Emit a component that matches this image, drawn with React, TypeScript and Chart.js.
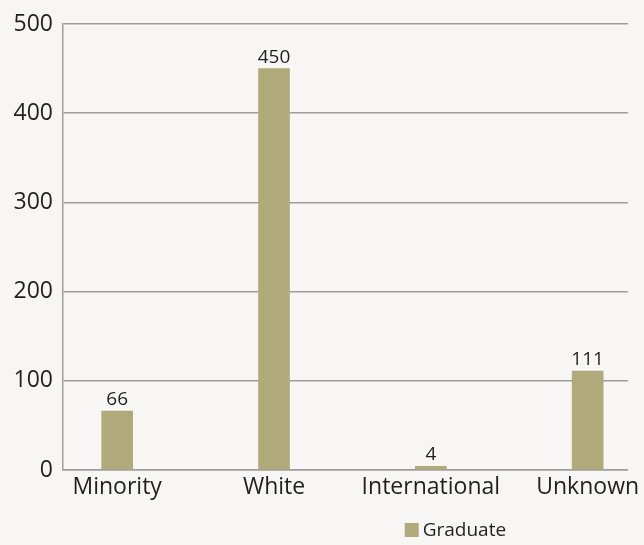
import React, { useEffect, useRef } from "react";
import { Chart, registerables } from "chart.js";

Chart.register(...registerables);

const categories = ["Minority", "White", "International", "Unknown"];
const graduateValues = [66, 450, 4, 111];
const yTicks = [0, 100, 200, 300, 400, 500];
const seriesLabel = "Graduate";

const FONT = "'Open Sans', 'Noto Sans', sans-serif";
const BAR_COLOR = "#b0a97a";
const GRID_COLOR = "#9d9d9d";
const TEXT_COLOR = "#231f20";

export default function App() {
  const ref = useRef<HTMLCanvasElement | null>(null);

  useEffect(() => {
    document.body.style.margin = "0";
    const canvas = ref.current;
    if (!canvas) return;

    const bgPlugin = {
      id: "bg",
      beforeDraw(chart: any) {
        const { ctx, width, height } = chart;
        ctx.save();
        ctx.fillStyle = "#f7f6f4";
        ctx.fillRect(0, 0, width, height);
        ctx.restore();
      },
    };

    const valueLabels = {
      id: "valueLabels",
      afterDatasetsDraw(chart: any) {
        const { ctx } = chart;
        const meta = chart.getDatasetMeta(0);
        ctx.save();
        ctx.font = `19px ${FONT}`;
        ctx.fillStyle = TEXT_COLOR;
        ctx.textAlign = "center";
        ctx.textBaseline = "alphabetic";
        meta.data.forEach((bar: any, i: number) => {
          ctx.fillText(String(graduateValues[i]), bar.x, bar.y - 6);
        });
        ctx.restore();
      },
    };

    const customLegend = {
      id: "customLegend",
      afterDraw(chart: any) {
        const { ctx, chartArea } = chart;
        const x = chartArea.left + chartArea.width * 0.605;
        const y = chart.height - 15;
        ctx.save();
        ctx.fillStyle = BAR_COLOR;
        ctx.fillRect(x, y - 7, 14, 14);
        ctx.font = `19px ${FONT}`;
        ctx.fillStyle = TEXT_COLOR;
        ctx.textAlign = "left";
        ctx.textBaseline = "middle";
        ctx.fillText(seriesLabel, x + 18, y + 1);
        ctx.restore();
      },
    };

    const chart = new Chart(canvas, {
      type: "bar",
      data: {
        datasets: [
          {
            label: seriesLabel,
            data: graduateValues.map((v, i) => ({ x: i, y: v })),
            backgroundColor: BAR_COLOR,
            borderWidth: 0,
            barThickness: 31,
          },
        ],
      },
      options: {
        animation: false,
        responsive: false,
        maintainAspectRatio: false,
        layout: { padding: { top: 24, right: 13, left: 0, bottom: 0 } },
        plugins: {
          legend: { display: false },
          tooltip: { enabled: false },
        },
        scales: {
          x: {
            type: "linear",
            offset: false,
            min: -0.3456,
            max: 3.256,
            afterBuildTicks(scale: any) {
              scale.ticks = categories.map((_, i) => ({ value: i }));
            },
            afterFit(scale: any) {
              scale.height = 75;
            },
            ticks: {
              callback: (v: any) => categories[Math.round(Number(v))] ?? "",
              font: { family: FONT, size: 23 },
              color: TEXT_COLOR,
              padding: 4,
              maxRotation: 0,
              autoSkip: false,
            },
            grid: { display: false, drawTicks: false, offset: false },
            border: { display: true, color: GRID_COLOR, width: 1.5 },
          },
          y: {
            min: 0,
            max: 500,
            afterBuildTicks(scale: any) {
              scale.ticks = yTicks.map((v) => ({ value: v }));
            },
            afterFit(scale: any) {
              scale.width = 63;
            },
            ticks: {
              font: { family: FONT, size: 23 },
              color: TEXT_COLOR,
              padding: 10,
            },
            grid: { color: GRID_COLOR, lineWidth: 1.5, drawTicks: false },
            border: { display: true, color: GRID_COLOR, width: 1.5 },
          },
        },
      },
      plugins: [bgPlugin, valueLabels, customLegend],
    });

    return () => chart.destroy();
  }, []);

  return (
    <div style={{ width: 644, height: 545 }}>
      <canvas ref={ref} width={644} height={545} style={{ display: "block" }} />
    </div>
  );
}
